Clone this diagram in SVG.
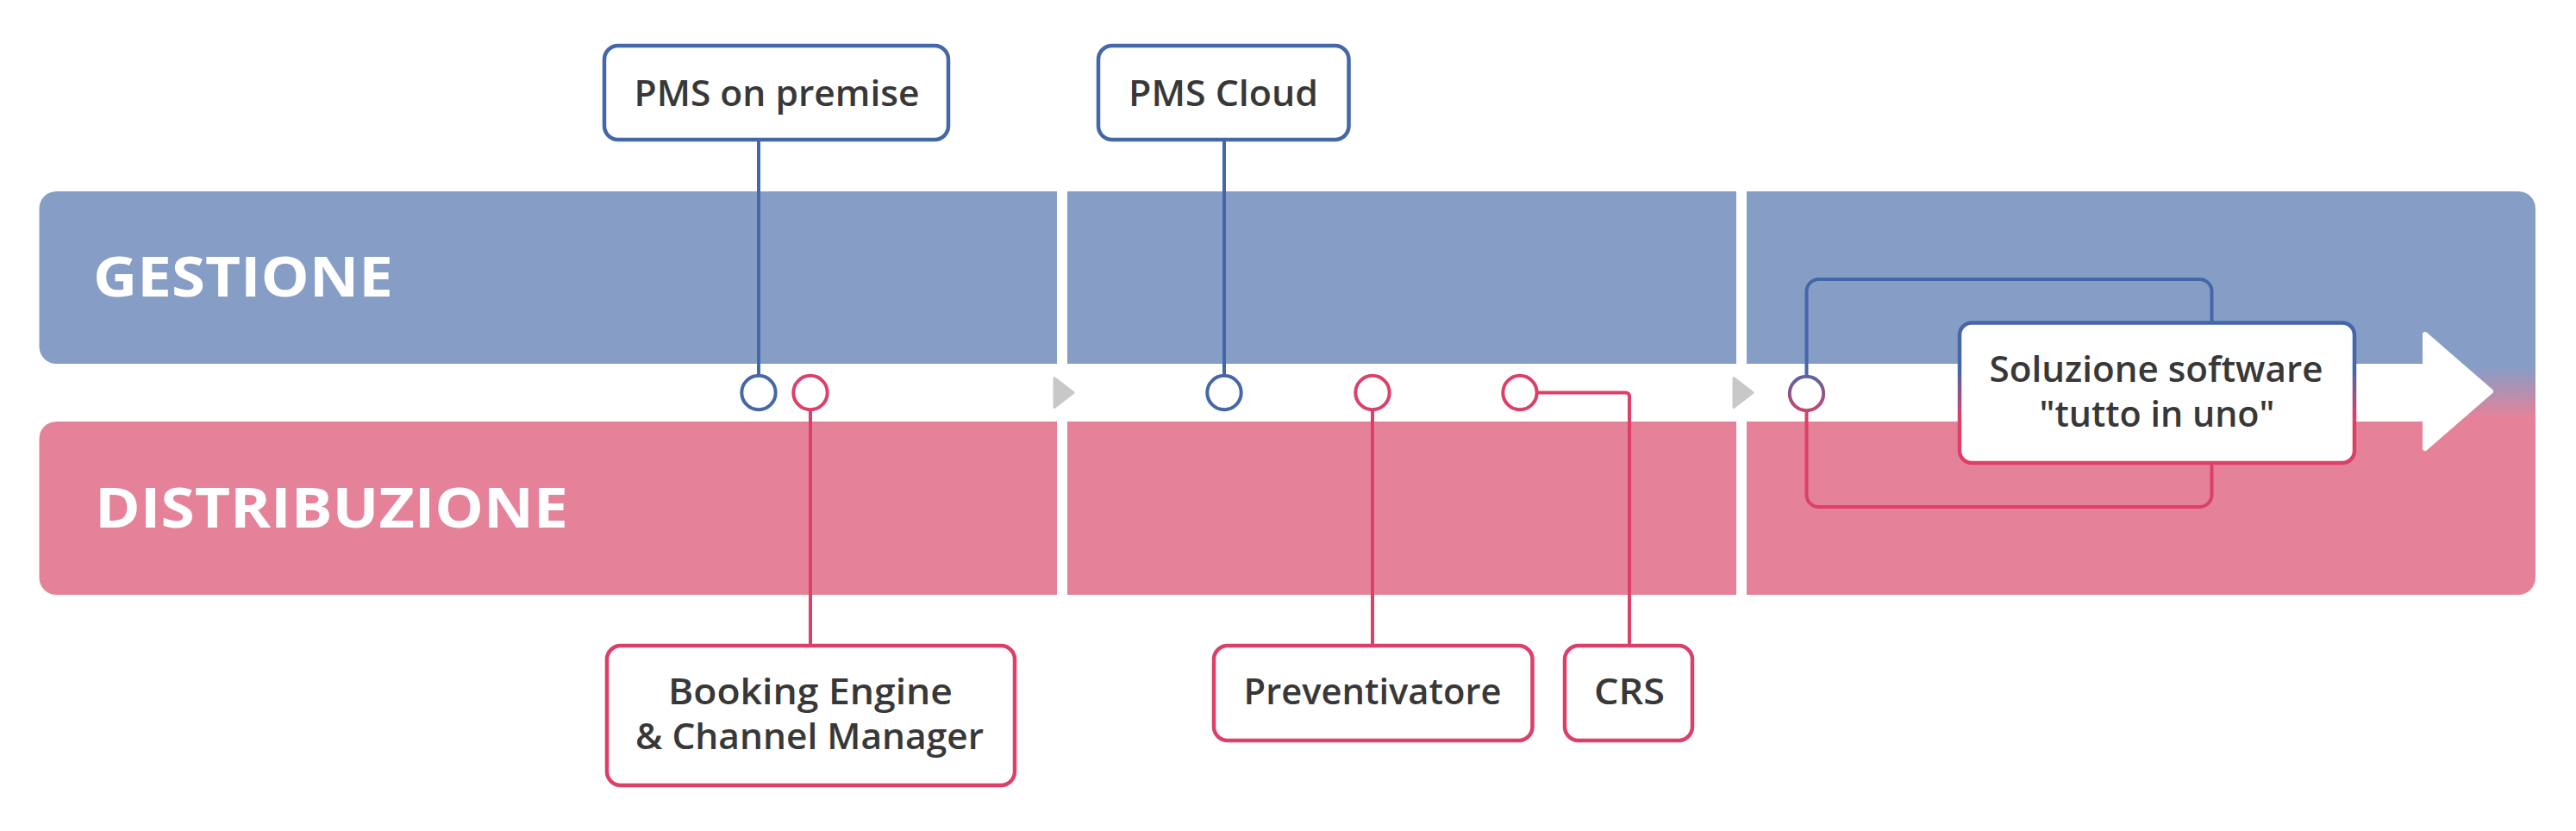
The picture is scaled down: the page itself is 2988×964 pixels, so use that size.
<svg xmlns="http://www.w3.org/2000/svg" width="2988" height="964" viewBox="0 0 2988 964">
<style>
.bandB{fill:#869DC6}
.bandR{fill:#E5829A}
.title{font-family:"Open Sans","Liberation Sans",sans-serif;font-weight:700;font-size:64px;fill:#ffffff}
.lbl{font-family:"Open Sans","Liberation Sans",sans-serif;font-weight:600;font-size:41px;fill:#383838;text-anchor:middle}
.boxB{fill:#ffffff;stroke:#4467AA;stroke-width:4.5}
.boxR{fill:#ffffff;stroke:#DC4068;stroke-width:4.5}
.lnB{fill:none;stroke:#4467AA;stroke-width:4}
.lnR{fill:none;stroke:#DC4068;stroke-width:4}
.dotB{fill:#ffffff;stroke:#4467AA;stroke-width:4}
.dotR{fill:#ffffff;stroke:#DC4068;stroke-width:4}
.tri{fill:#C8C8C8;stroke:#C8C8C8;stroke-width:3;stroke-linejoin:round}
</style>
<defs>
<linearGradient id="bandGrad" gradientUnits="userSpaceOnUse" x1="0" y1="425" x2="0" y2="485">
<stop offset="0" stop-color="#869DC6"/>
<stop offset="1" stop-color="#E5829A"/>
</linearGradient>
<linearGradient id="lineGrad" gradientUnits="userSpaceOnUse" x1="0" y1="428" x2="0" y2="484">
<stop offset="0" stop-color="#4467AA"/>
<stop offset="1" stop-color="#DC4068"/>
</linearGradient>
</defs>
<rect width="2988" height="964" fill="#ffffff"/>
<g id="bands">
<path class="bandB" d="M1226 222 H65.5 A20 20 0 0 0 45.5 242 V402 A20 20 0 0 0 65.5 422 H1226 Z"/>
<rect class="bandB" x="1238" y="222" width="776" height="200"/>
<path class="bandR" d="M1226 489 H65.5 A20 20 0 0 0 45.5 509 V670 A20 20 0 0 0 65.5 690 H1226 Z"/>
<rect class="bandR" x="1238" y="489" width="776" height="201"/>
<path fill="url(#bandGrad)" d="M2026 222 H2921 A20 20 0 0 1 2941 242 V670 A20 20 0 0 1 2921 690 H2026 Z"/>
<rect fill="#ffffff" x="2026" y="422" width="787" height="67"/>
<polygon fill="#ffffff" stroke="#ffffff" stroke-width="6" stroke-linejoin="round" points="2813,388 2889,454 2813,520"/>
<polygon class="tri" points="1223,438.5 1245,455.5 1223,472.5"/>
<polygon class="tri" points="2011,438.5 2033,455.5 2011,472.5"/>
<text class="title" x="108" y="344" textLength="348" lengthAdjust="spacingAndGlyphs">GESTIONE</text>
<text class="title" x="110" y="611.5" textLength="549" lengthAdjust="spacingAndGlyphs">DISTRIBUZIONE</text>
</g>
<g id="connectors">
<path class="lnB" d="M880 164 V436"/>
<path class="lnB" d="M1420 164 V436"/>
<path class="lnR" d="M940 475 V749"/>
<path class="lnR" d="M1592 475 V749"/>
<path class="lnR" d="M1783 455.5 H1886 A4 4 0 0 1 1890 459.5 V749"/>
<path fill="none" stroke="url(#lineGrad)" stroke-width="4" d="M2095.5 437 V338 A14 14 0 0 1 2109.5 324 H2551.5 A14 14 0 0 1 2565.5 338 V375"/>
<path fill="none" stroke="url(#lineGrad)" stroke-width="4" d="M2095.5 476 V574 A14 14 0 0 0 2109.5 588 H2551.5 A14 14 0 0 0 2565.5 574 V537"/>
<circle class="dotB" cx="880" cy="455.5" r="19.7"/>
<circle class="dotR" cx="940" cy="455.5" r="19.7"/>
<circle class="dotB" cx="1420" cy="455.5" r="19.7"/>
<circle class="dotR" cx="1592" cy="455.5" r="19.7"/>
<circle class="dotR" cx="1763" cy="455.5" r="19.7"/>
<circle fill="#ffffff" stroke="url(#lineGrad)" stroke-width="4" cx="2095.5" cy="456.5" r="19.7"/>
</g>
<g id="pms-on-premise">
<rect class="boxB" x="701" y="53" width="399" height="109" rx="16"/>
<text class="lbl" x="901" y="122.7" textLength="331" lengthAdjust="spacingAndGlyphs">PMS on premise</text>
</g>
<g id="pms-cloud">
<rect class="boxB" x="1274" y="53" width="290.5" height="109" rx="16"/>
<text class="lbl" x="1419" y="122.7" textLength="220" lengthAdjust="spacingAndGlyphs">PMS Cloud</text>
</g>
<g id="booking-engine">
<rect class="boxR" x="704" y="749" width="473" height="162" rx="16"/>
<text class="lbl" x="940" y="817" textLength="330" lengthAdjust="spacingAndGlyphs">Booking Engine</text>
<text class="lbl" x="939" y="869" textLength="404" lengthAdjust="spacingAndGlyphs">&amp; Channel Manager</text>
</g>
<g id="preventivatore">
<rect class="boxR" x="1408" y="749" width="369.5" height="110" rx="16"/>
<text class="lbl" x="1592" y="817" textLength="299" lengthAdjust="spacingAndGlyphs">Preventivatore</text>
</g>
<g id="crs">
<rect class="boxR" x="1815" y="749" width="148" height="110" rx="16"/>
<text class="lbl" x="1890" y="817" textLength="82" lengthAdjust="spacingAndGlyphs">CRS</text>
</g>
<g id="soluzione">
<rect fill="#ffffff" stroke="url(#lineGrad)" stroke-width="4.5" x="2273" y="374.5" width="458" height="162.5" rx="14"/>
<text class="lbl" x="2501" y="443.3" textLength="387" lengthAdjust="spacingAndGlyphs">Soluzione software</text>
<text class="lbl" x="2502" y="495" textLength="273" lengthAdjust="spacingAndGlyphs">"tutto in uno"</text>
</g>
</svg>
